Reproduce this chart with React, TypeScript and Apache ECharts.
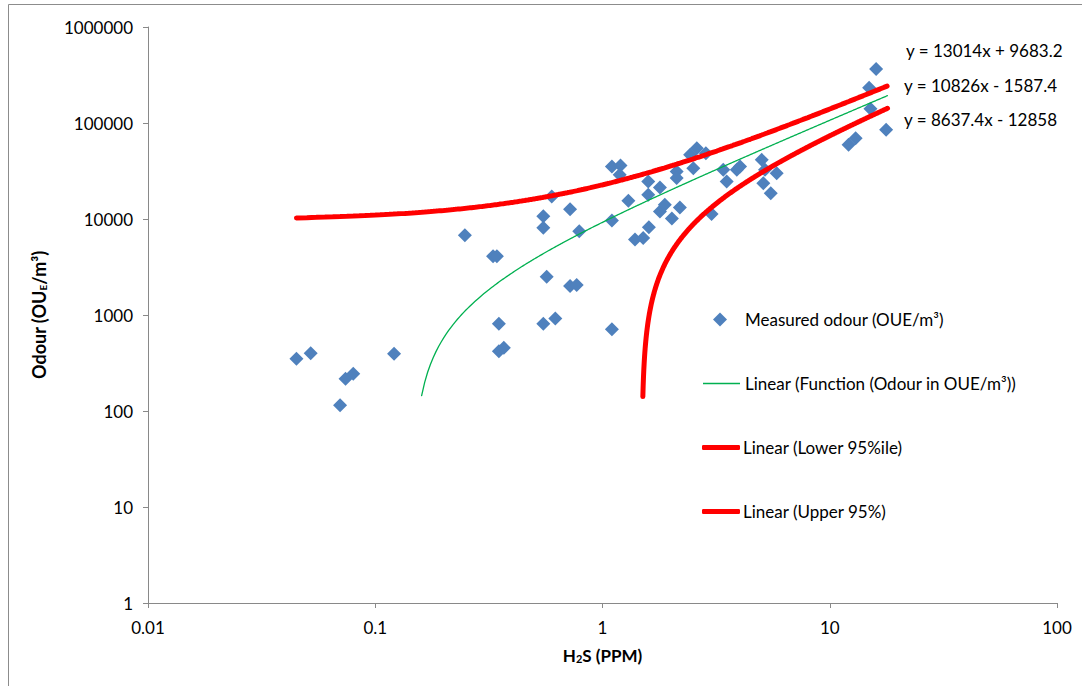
import React, { useEffect, useRef } from "react";
import * as echarts from "echarts";

const FONT = 'Lato, "Open Sans", "Noto Sans", sans-serif';

// Measured points: H2S (ppm) and odour (OUE/m3)
const h2sPpm = [
  0.045, 0.052, 0.07, 0.074, 0.08, 0.121, 0.248, 0.33, 0.343, 0.35, 0.35, 0.368,
  0.549, 0.549, 0.549, 0.568, 0.598, 0.62, 0.72, 0.72, 0.77, 0.79,
  1.1, 1.1, 1.1, 1.2, 1.19, 1.3, 1.39, 1.51, 1.59, 1.59, 1.6, 1.79, 1.79, 1.88,
  2.02, 2.19, 2.12, 2.12, 2.43, 2.6, 2.85, 2.51, 3.02, 3.4, 3.52, 3.9, 4.03,
  5.02, 5.19, 5.84, 5.1, 5.5, 12.1, 13.0, 14.9, 15.1, 16.0, 17.7,
];
const odourOue = [
  350, 400, 115, 217, 245, 394, 6770, 4100, 4100, 810, 420, 455,
  10700, 8100, 813, 2500, 17200, 920, 12600, 2000, 2050, 7450,
  35200, 9620, 711, 36100, 28900, 15500, 6110, 6350, 24600, 17900, 8200, 21300, 12000, 14100,
  10100, 13200, 31300, 26700, 46600, 54600, 48400, 33800, 11300, 32600, 24600, 32600, 35200,
  41300, 32600, 30000, 23600, 18600, 59200, 69300, 233000, 141000, 366000, 85300,
];

const xTickLabels = ["0.01", "0.1", "1", "10", "100"];
const yTickLabels = ["1", "10", "100", "1000", "10000", "100000", "1000000"];

const scatterName = "Measured odour (OUE/m\u00b3)";
// Trendlines: function, lower, upper (coefficients as printed on the chart)
const fitNames = [
  "Linear (Function (Odour in OUE/m\u00b3))",
  "Linear (Lower 95%ile)",
  "Linear (Upper 95%)",
];
const fitSlopes = [10826, 8637.4, 13014];
const fitIntercepts = [-1587.4, -12858, 9683.2];
const fitStartX = [0.16, 1.505, 0.045];
const fitEndX = 18;
const equationLabels = [
  "y = 13014x + 9683.2",
  "y = 10826x - 1587.4",
  "y = 8637.4x - 12858",
];

function fitLine(i: number): number[][] {
  const pts: number[][] = [];
  const step = 0.005;
  for (let x = fitStartX[i]; x <= fitEndX + 1e-9; x += step) {
    const y = fitSlopes[i] * x + fitIntercepts[i];
    if (y > 0) pts.push([x, y]);
  }
  return pts;
}

function tickLabel(labels: string[], minExp: number) {
  return (v: number) => {
    const k = Math.round(Math.log10(v)) - minExp;
    return labels[k] ?? "";
  };
}

export default function App() {
  const ref = useRef<HTMLDivElement>(null);
  useEffect(() => {
    if (!ref.current) return;
    const chart = echarts.init(ref.current, null, { renderer: "svg" });
    const axisColor = "#898989";
    const fitColors = ["#00B050", "#FF0000", "#FF0000"];
    const fitWidths = [1.3, 5, 5];
    const legendText = { fontFamily: FONT, fontSize: 17, color: "#000" };
    const legendBase = {
      orient: "vertical",
      padding: 0,
      itemGap: 0,
      selectedMode: false,
    };
    chart.setOption({
      animation: false,
      backgroundColor: "#fff",
      textStyle: { fontFamily: FONT },
      grid: { left: 148, right: 25, top: 27, bottom: 83, containLabel: false },
      xAxis: {
        type: "log",
        logBase: 10,
        min: 0.01,
        max: 100,
        name: "{b|H}{s|2}{b|S (PPM)}",
        nameLocation: "middle",
        nameGap: 43,
        nameTextStyle: {
          rich: {
            b: { fontFamily: FONT, fontWeight: "bold", fontSize: 17, color: "#000" },
            s: { fontFamily: FONT, fontWeight: "bold", fontSize: 11, color: "#000", padding: [7, 0, 0, 0] },
          },
        },
        axisLine: { show: true, lineStyle: { color: axisColor, width: 1 } },
        axisTick: { show: true, inside: false, length: 5, lineStyle: { color: axisColor } },
        minorTick: { show: false },
        splitLine: { show: false },
        axisLabel: {
          margin: 16,
          fontFamily: FONT,
          fontSize: 17,
          color: "#000",
          formatter: tickLabel(xTickLabels, -2),
        },
      },
      yAxis: {
        type: "log",
        logBase: 10,
        min: 1,
        max: 1000000,
        name: "{b|Odour (OU}{s|E}{b|/m\u00b3)}",
        nameLocation: "middle",
        nameRotate: 90,
        nameGap: 100,
        nameTextStyle: {
          rich: {
            b: { fontFamily: FONT, fontWeight: "bold", fontSize: 18, color: "#000" },
            s: { fontFamily: FONT, fontWeight: "bold", fontSize: 10, color: "#000", padding: [8, 0, 0, 0] },
          },
        },
        axisLine: { show: true, lineStyle: { color: axisColor, width: 1 } },
        axisTick: { show: true, inside: false, length: 5, lineStyle: { color: axisColor } },
        minorTick: { show: false },
        splitLine: { show: false },
        axisLabel: {
          margin: 15,
          fontFamily: FONT,
          fontSize: 17,
          color: "#000",
          formatter: tickLabel(yTickLabels, 0),
        },
      },
      legend: [
        {
          ...legendBase,
          left: 713,
          top: 311,
          itemWidth: 14,
          itemHeight: 14,
          textStyle: { ...legendText, padding: [0, 0, 0, 13] },
          data: [{ name: scatterName, icon: "diamond" }],
        },
        {
          ...legendBase,
          left: 703,
          top: 375,
          itemWidth: 37,
          itemHeight: 1.5,
          textStyle: { ...legendText, padding: [0, 0, 0, 0] },
          data: [{ name: fitNames[0], icon: "rect" }],
        },
        {
          ...legendBase,
          left: 702,
          top: 439,
          itemWidth: 38,
          itemHeight: 5,
          textStyle: { ...legendText, padding: [0, 0, 0, -2] },
          data: [{ name: fitNames[1], icon: "roundRect" }],
        },
        {
          ...legendBase,
          left: 702,
          top: 503,
          itemWidth: 38,
          itemHeight: 5,
          textStyle: { ...legendText, padding: [0, 0, 0, -2] },
          data: [{ name: fitNames[2], icon: "roundRect" }],
        },
      ],
      series: [
        {
          name: scatterName,
          type: "scatter",
          symbol: "diamond",
          symbolSize: 14,
          itemStyle: { color: "#4F81BD", opacity: 1 },
          data: h2sPpm.map((x, i) => [x, odourOue[i]]),
          z: 2,
        },
        ...fitNames.map((name, i) => ({
          name,
          type: "line",
          showSymbol: false,
          symbol: "none",
          smooth: false,
          lineStyle: { color: fitColors[i], width: fitWidths[i], cap: "round" },
          itemStyle: { color: fitColors[i] },
          data: fitLine(i),
          z: 3,
        })),
      ],
      graphic: [
        {
          type: "rect",
          shape: { x: 8.5, y: 4.5, width: 1200, height: 800 },
          style: { fill: "none", stroke: "#8c8c8c", lineWidth: 1 },
          silent: true,
          z: -1,
        },
        ...equationLabels.map((t, i) => ({
          type: "text",
          left: i === 0 ? 906 : 904,
          top: [42, 77, 111][i],
          style: { text: t, fontFamily: FONT, fontSize: 17, fill: "#000" },
        })),
      ],
    });
    return () => chart.dispose();
  }, []);
  return (
    <div
      ref={ref}
      style={{ position: "absolute", left: 0, top: 0, width: 1082, height: 686 }}
    />
  );
}
